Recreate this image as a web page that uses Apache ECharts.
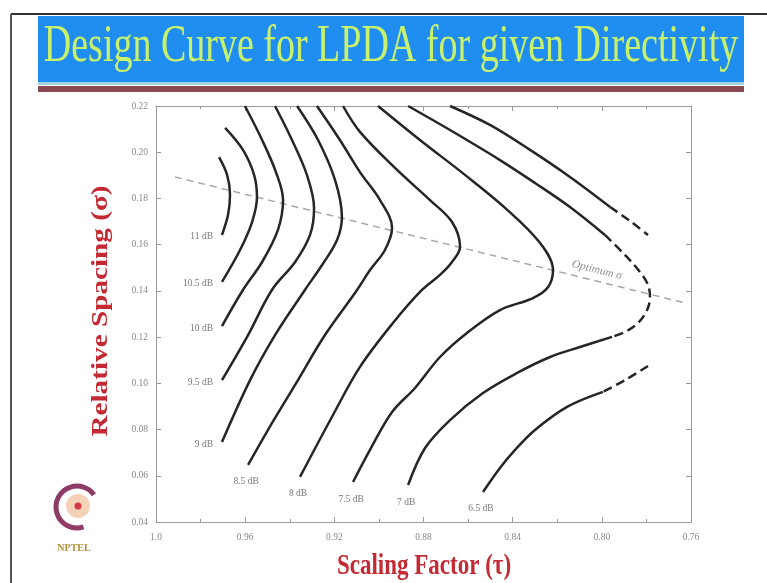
<!DOCTYPE html>
<html>
<head>
<meta charset="utf-8">
<title>Design Curve for LPDA for given Directivity</title>
<script src="https://cdn.jsdelivr.net/npm/echarts@6/dist/echarts.min.js"></script>
<style>
html, body { margin: 0; padding: 0; background: #fff; }
#chart { width: 767px; height: 583px; }
</style>
</head>
<body>
<div id="chart"></div>
<script>
// x = scaling factor tau, y = relative spacing sigma
const xTickValues = [1.0, 0.96, 0.92, 0.88, 0.84, 0.80, 0.76];
const xTickLabels = ['1.0', '0.96', '0.92', '0.88', '0.84', '0.80', '0.76'];
const yTickValues = [0.04, 0.06, 0.08, 0.10, 0.12, 0.14, 0.16, 0.18, 0.20, 0.22];
const yTickLabels = ['0.04', '0.06', '0.08', '0.10', '0.12', '0.14', '0.16', '0.18', '0.20', '0.22'];

const contourNames = ['11 dB', '10.5 dB', '10 dB', '9.5 dB', '9 dB', '8.5 dB', '8 dB', '7.5 dB', '7 dB', '6.5 dB'];

const curve11 = [[0.9717, 0.1979], [0.9681, 0.1902], [0.9668, 0.1815], [0.9677, 0.1728], [0.9704, 0.1642]];
const curve10_5 = [[0.969, 0.2105], [0.961, 0.201], [0.956, 0.1902], [0.9547, 0.1806], [0.9569, 0.1698], [0.9623, 0.1577], [0.9704, 0.1439]];
const curve10 = [[0.9601, 0.22], [0.9524, 0.2053], [0.9462, 0.1914], [0.943, 0.1793], [0.9453, 0.1664], [0.9524, 0.1525], [0.961, 0.1404], [0.9704, 0.1248]];
const curve9_5 = [[0.9466, 0.22], [0.939, 0.2053], [0.9323, 0.1902], [0.9291, 0.1759], [0.9309, 0.1642], [0.9376, 0.1525], [0.948, 0.1404], [0.9587, 0.1209], [0.9704, 0.1014]];
const curve9 = [[0.9367, 0.22], [0.9273, 0.2053], [0.9197, 0.188], [0.9166, 0.172], [0.9188, 0.162], [0.9255, 0.1512], [0.9332, 0.1404], [0.9466, 0.1209], [0.9578, 0.1014], [0.9704, 0.0746]];
const curve8_5 = [[0.9278, 0.22], [0.9175, 0.2053], [0.9085, 0.1914], [0.8995, 0.1793], [0.8941, 0.1672], [0.8973, 0.1577], [0.904, 0.149], [0.9098, 0.1404], [0.9242, 0.1209], [0.9376, 0.0993], [0.9498, 0.0798], [0.9587, 0.0647]];
const curve8 = [[0.9161, 0.22], [0.9085, 0.2088], [0.8928, 0.1932], [0.8771, 0.1793], [0.8672, 0.1698], [0.8636, 0.159], [0.8672, 0.1525], [0.8726, 0.1469], [0.8807, 0.1404], [0.8937, 0.1261], [0.9085, 0.1071], [0.9206, 0.0863], [0.9354, 0.0595]];
const curve7_5 = [[0.9004, 0.22], [0.8816, 0.2053], [0.8614, 0.1902], [0.8434, 0.1759], [0.8277, 0.1607], [0.8219, 0.149], [0.8241, 0.1417], [0.8309, 0.1369], [0.8457, 0.1317], [0.8605, 0.1218], [0.8726, 0.1114], [0.8838, 0.098], [0.8941, 0.0876], [0.904, 0.0712], [0.9116, 0.0573]];

// 7 dB: solid, dashed bend, solid
const curve7Upper = [[0.8869, 0.22], [0.8681, 0.2096], [0.8457, 0.1966], [0.83, 0.1867], [0.8143, 0.1763], [0.7986, 0.1642]];
const curve7Dash = [[0.7986, 0.1642], [0.7896, 0.1555], [0.7829, 0.1482], [0.7793, 0.1426], [0.7784, 0.1374], [0.7797, 0.1317], [0.7838, 0.1261], [0.7896, 0.1222], [0.7954, 0.1201]];
const curve7Lower = [[0.7954, 0.1201], [0.8098, 0.1157], [0.8232, 0.1114], [0.838, 0.1045], [0.8533, 0.0958], [0.8681, 0.0841], [0.8793, 0.072], [0.8869, 0.056]];

// 6.5 dB: two open branches, each ending dashed
const curve6_5Upper = [[0.8681, 0.22], [0.8502, 0.2118], [0.8322, 0.201], [0.8143, 0.1893], [0.7963, 0.1763]];
const curve6_5UpperDash = [[0.7963, 0.1763], [0.7873, 0.1702], [0.7793, 0.1642]];
const curve6_5LowerDash = [[0.7793, 0.1075], [0.7896, 0.1014], [0.7995, 0.0963]];
const curve6_5Lower = [[0.7995, 0.0963], [0.8156, 0.0898], [0.83, 0.0798], [0.8389, 0.0712], [0.8457, 0.0634], [0.8533, 0.053]];

// optimum sigma line
const optimumTau = [0.9915, 0.7627];
const optimumSigma = [0.1893, 0.1348];
const optimumLabelAt = [0.8022, 0.149];

const contours = [
  { solid: [curve11], dash: [] },
  { solid: [curve10_5], dash: [] },
  { solid: [curve10], dash: [] },
  { solid: [curve9_5], dash: [] },
  { solid: [curve9], dash: [] },
  { solid: [curve8_5], dash: [] },
  { solid: [curve8], dash: [] },
  { solid: [curve7_5], dash: [] },
  { solid: [curve7Upper, curve7Lower], dash: [curve7Dash] },
  { solid: [curve6_5Upper, curve6_5Lower], dash: [curve6_5UpperDash, curve6_5LowerDash] }
];

const serif = '"Liberation Serif", "DejaVu Serif", serif';
const curveColor = '#262626';
const axisColor = '#9a9a9a';

let chart = echarts.init(document.getElementById('chart'), null, { renderer: 'canvas' });

let series = [];
contours.forEach(function (c, i) {
  c.solid.forEach(function (pts) {
    series.push({
      type: 'line', data: pts, showSymbol: false, smooth: 0.35, silent: true,
      lineStyle: { color: curveColor, width: 2.5 }, z: 3
    });
  });
  c.dash.forEach(function (pts) {
    series.push({
      type: 'line', data: pts, showSymbol: false, smooth: 0.35, silent: true,
      lineStyle: { color: curveColor, width: 2.5, type: [9, 5] }, z: 3
    });
  });
});

// contour labels at the lower end of every curve
let labelData = contours.map(function (c, i) {
  let last = c.solid[c.solid.length - 1];
  let below = i >= 5;
  return {
    value: last[last.length - 1],
    name: contourNames[i],
    label: {
      position: below ? 'bottom' : 'left',
      distance: below ? 12 : 9,
      offset: below ? [-2, 0] : [0, 2]
    }
  };
});
series.push({
  type: 'scatter', data: labelData, symbolSize: 0, silent: true,
  label: { show: true, formatter: '{b}', color: '#555', fontFamily: serif, fontSize: 9.5 }
});

// optimum sigma dashed line
series.push({
  type: 'line', silent: true, showSymbol: false,
  data: optimumTau.map(function (t, i) { return [t, optimumSigma[i]]; }),
  lineStyle: { color: '#a8a8a8', width: 1.5, type: [7, 5] }, z: 2
});
series.push({
  type: 'scatter', silent: true, symbolSize: 0,
  data: [{ value: optimumLabelAt, name: 'Optimum σ' }],
  label: {
    show: true, position: 'inside', formatter: '{b}', rotate: -14,
    color: '#777', fontFamily: serif, fontStyle: 'italic', fontSize: 11.5
  }
});

function xLabel(v) {
  let i = xTickValues.findIndex(function (t) { return Math.abs(t - v) < 1e-6; });
  return i >= 0 ? xTickLabels[i] : '';
}
function yLabel(v) {
  let i = yTickValues.findIndex(function (t) { return Math.abs(t - v) < 1e-6; });
  return i >= 0 ? yTickLabels[i] : '';
}

const xBase = {
  type: 'value', inverse: true, min: 0.76, max: 1.0, interval: 0.04,
  axisLine: { show: true, lineStyle: { color: axisColor, width: 1 } },
  axisTick: { show: true, inside: true, length: 5, lineStyle: { color: axisColor } },
  minorTick: { show: true, splitNumber: 2, length: 3, lineStyle: { color: axisColor } },
  splitLine: { show: false }
};
const yBase = {
  type: 'value', min: 0.04, max: 0.22, interval: 0.02,
  axisLine: { show: true, lineStyle: { color: axisColor, width: 1 } },
  axisTick: { show: true, inside: true, length: 5, lineStyle: { color: axisColor } },
  splitLine: { show: false }
};

let option = {
  animation: false,
  backgroundColor: '#fff',
  grid: { left: 156, right: 76, top: 106, bottom: 61 },
  xAxis: [
    Object.assign({}, xBase, {
      position: 'bottom',
      axisLabel: { formatter: xLabel, color: '#888', fontFamily: serif, fontSize: 9.5, margin: 10 }
    }),
    Object.assign({}, xBase, { position: 'top', axisLabel: { show: false } })
  ],
  yAxis: [
    Object.assign({}, yBase, {
      position: 'left',
      axisLabel: { formatter: yLabel, color: '#888', fontFamily: serif, fontSize: 9.5, margin: 8 }
    }),
    Object.assign({}, yBase, { position: 'right', axisLabel: { show: false } })
  ],
  graphic: [
    // slide frame
    { type: 'line', shape: { x1: 11, y1: 14, x2: 767, y2: 14 }, style: { stroke: '#333', lineWidth: 2 } },
    { type: 'line', shape: { x1: 11, y1: 14, x2: 11, y2: 583 }, style: { stroke: '#555', lineWidth: 2 } },
    // title banner
    { type: 'rect', shape: { x: 38, y: 16, width: 706, height: 66 }, style: { fill: '#1f8ef0' } },
    { type: 'rect', shape: { x: 38, y: 82, width: 706, height: 3 }, style: { fill: '#9fd6dd' } },
    { type: 'rect', shape: { x: 38, y: 86, width: 706, height: 6 }, style: { fill: '#8a4a52' } },
    {
      type: 'text', x: 391, y: 47, scaleY: 1.4,
      style: {
        text: 'Design Curve for LPDA for given Directivity',
        font: 'normal 38px ' + serif, fill: '#c9f26c',
        align: 'center', verticalAlign: 'middle'
      }
    },
    // axis titles
    {
      type: 'text', x: 424, y: 566, scaleY: 1.3,
      style: {
        text: 'Scaling Factor (τ)', font: 'bold 23px ' + serif, fill: '#c32a33',
        align: 'center', verticalAlign: 'middle'
      }
    },
    {
      type: 'text', x: 101, y: 311, rotation: Math.PI / 2, scaleX: 1.27,
      style: {
        text: 'Relative Spacing (σ)', font: 'bold 23px ' + serif, fill: '#c32a33',
        align: 'center', verticalAlign: 'middle'
      }
    },
    // NPTEL logo
    { type: 'arc', shape: { cx: 77, cy: 507, r: 21, startAngle: Math.PI * 0.4, endAngle: Math.PI * 1.8 },
      style: { stroke: '#8e3b68', fill: null, lineWidth: 5 } },
    { type: 'circle', shape: { cx: 78, cy: 506, r: 12 }, style: { fill: '#f4d2b8' } },
    { type: 'circle', shape: { cx: 78, cy: 506, r: 3.5 }, style: { fill: '#d23a48' } },
    {
      type: 'text', x: 74, y: 548,
      style: { text: 'NPTEL', font: 'bold 10px ' + serif, fill: '#b0903a', align: 'center', verticalAlign: 'middle' }
    }
  ],
  series: series
};

chart.setOption(option);
window.addEventListener('resize', function () {
  chart.resize();
});
</script>
</body>
</html>
